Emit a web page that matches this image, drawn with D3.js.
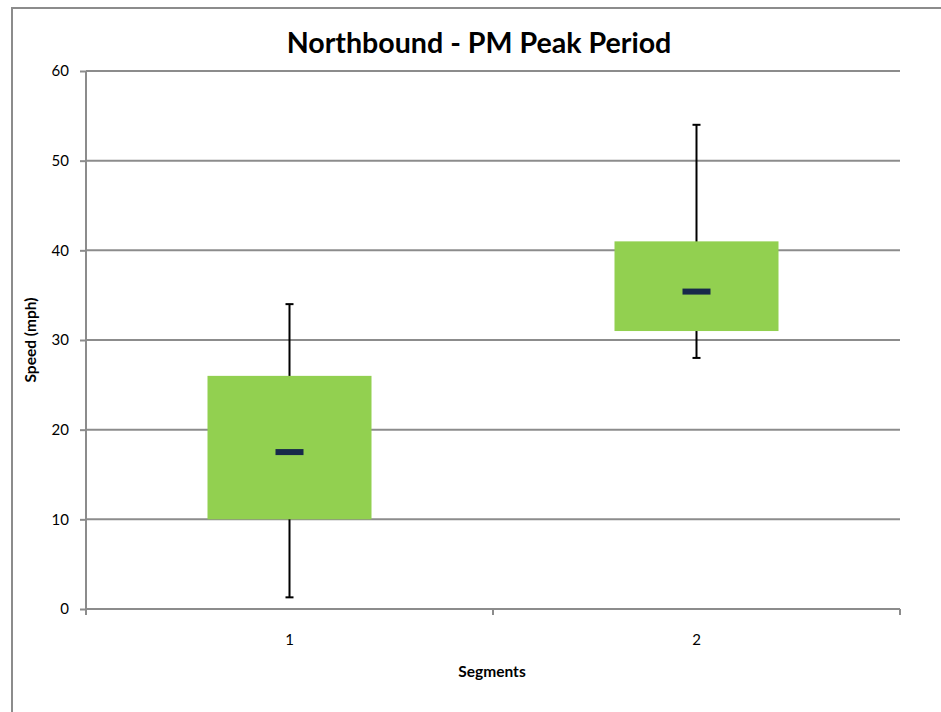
<!DOCTYPE html>
<html>
<head>
<meta charset="utf-8">
<script src="https://cdn.jsdelivr.net/npm/d3@7"></script>
<style>
  body { margin: 0; background: #fff; }
  text { font-family: Lato, "Open Sans", sans-serif; }
</style>
</head>
<body>
<div id="chart"></div>
<script>
const segments = ["1", "2"];
const whiskerLow = [1.3, 28];
const boxLow = [10, 31];
const median = [17.5, 35.4];
const boxHigh = [26, 41];
const whiskerHigh = [34, 54];
const yTicks = [0, 10, 20, 30, 40, 50, 60];

const width = 941, height = 712,
  margin = {top: 71, left: 86, right: 41, bottom: 103};

const svg = d3.select("#chart").append("svg")
  .attr("width", width)
  .attr("height", height);

// outer frame
svg.append("rect")
  .attr("x", 12).attr("y", 8)
  .attr("width", 940).attr("height", 720)
  .attr("fill", "none")
  .attr("stroke", "#8c8c8c")
  .attr("stroke-width", 2);

const data = segments.map((s, i) => ({
  seg: s, wl: whiskerLow[i], lo: boxLow[i], med: median[i], hi: boxHigh[i], wh: whiskerHigh[i]
}));

const xScale = d3.scaleBand()
  .domain(segments)
  .range([margin.left, width - margin.right]);

const yScale = d3.scaleLinear()
  .domain([0, 60])
  .range([height - margin.bottom, margin.top]);

// gridlines
svg.append("g")
  .selectAll("line")
  .data(yTicks.filter(d => d > 0))
  .enter()
  .append("line")
    .attr("x1", margin.left)
    .attr("x2", width - margin.right)
    .attr("y1", d => yScale(d))
    .attr("y2", d => yScale(d))
    .attr("stroke", "#8c8c8c")
    .attr("stroke-width", 2);

// y axis
const yAxis = svg.append("g")
  .attr("transform", `translate(${margin.left},0)`)
  .call(d3.axisLeft(yScale).tickValues(yTicks).tickSize(6).tickPadding(11));
yAxis.selectAll("line, path").attr("stroke", "#8c8c8c").attr("stroke-width", 2);
yAxis.select(".domain").attr("d", `M0,${yScale(60)}V${yScale(0)}`);
yAxis.selectAll("text").attr("font-size", 15).style("fill", "#000")
  .attr("font-family", "Lato, sans-serif");

// x axis
const xAxis = svg.append("g")
  .attr("transform", `translate(0,${yScale(0)})`)
  .call(d3.axisBottom(xScale).tickSize(0).tickPadding(25));
xAxis.select(".domain").attr("stroke", "#8c8c8c").attr("stroke-width", 2)
  .attr("d", `M${margin.left},0H${width - margin.right}`);
xAxis.selectAll("text").attr("font-size", 15).style("fill", "#000")
  .attr("font-family", "Lato, sans-serif");
// category boundary ticks
svg.append("g")
  .selectAll("line")
  .data([xScale.range()[0], ...segments.map(s => xScale(s) + xScale.bandwidth())])
  .enter()
  .append("line")
    .attr("x1", d => d).attr("x2", d => d)
    .attr("y1", yScale(0)).attr("y2", yScale(0) + 6)
    .attr("stroke", "#8c8c8c")
    .attr("stroke-width", 2);

const boxW = 164, medW = 28;

// whiskers
const wg = svg.append("g").selectAll("g").data(data).enter().append("g");
wg.append("line")
  .attr("x1", d => xScale(d.seg) + xScale.bandwidth() / 2)
  .attr("x2", d => xScale(d.seg) + xScale.bandwidth() / 2)
  .attr("y1", d => yScale(d.wh))
  .attr("y2", d => yScale(d.wl))
  .attr("stroke", "#000").attr("stroke-width", 2);
wg.selectAll(".cap")
  .data(d => [d.wl, d.wh].map(v => ({seg: d.seg, v})))
  .enter()
  .append("line")
    .attr("x1", d => xScale(d.seg) + xScale.bandwidth() / 2 - 4)
    .attr("x2", d => xScale(d.seg) + xScale.bandwidth() / 2 + 4)
    .attr("y1", d => yScale(d.v))
    .attr("y2", d => yScale(d.v))
    .attr("stroke", "#000").attr("stroke-width", 2);

// boxes
svg.append("g")
  .selectAll("rect")
  .data(data)
  .enter()
  .append("rect")
    .attr("x", d => xScale(d.seg) + xScale.bandwidth() / 2 - boxW / 2)
    .attr("width", boxW)
    .attr("y", d => yScale(d.hi))
    .attr("height", d => yScale(d.lo) - yScale(d.hi))
    .attr("fill", "#92d050");

// median marks
svg.append("g")
  .selectAll("rect")
  .data(data)
  .enter()
  .append("rect")
    .attr("x", d => xScale(d.seg) + xScale.bandwidth() / 2 - medW / 2)
    .attr("width", medW)
    .attr("y", d => yScale(d.med) - 3)
    .attr("height", 6)
    .attr("fill", "#17294a");

// title
svg.append("text")
  .attr("x", 479).attr("y", 53)
  .attr("text-anchor", "middle")
  .attr("font-size", 28.6)
  .attr("font-weight", "bold")
  .text("Northbound - PM Peak Period");

svg.append("text")
  .attr("x", 492)
  .attr("y", 677)
  .attr("text-anchor", "middle")
  .attr("font-size", 15.5)
  .attr("font-weight", "bold")
  .text("Segments");

svg.append("text")
  .attr("transform", `translate(36,${(yScale(0) + yScale(60)) / 2}) rotate(-90)`)
  .attr("text-anchor", "middle")
  .attr("font-size", 15.5)
  .attr("font-weight", "bold")
  .text("Speed (mph)");
</script>
</body>
</html>
